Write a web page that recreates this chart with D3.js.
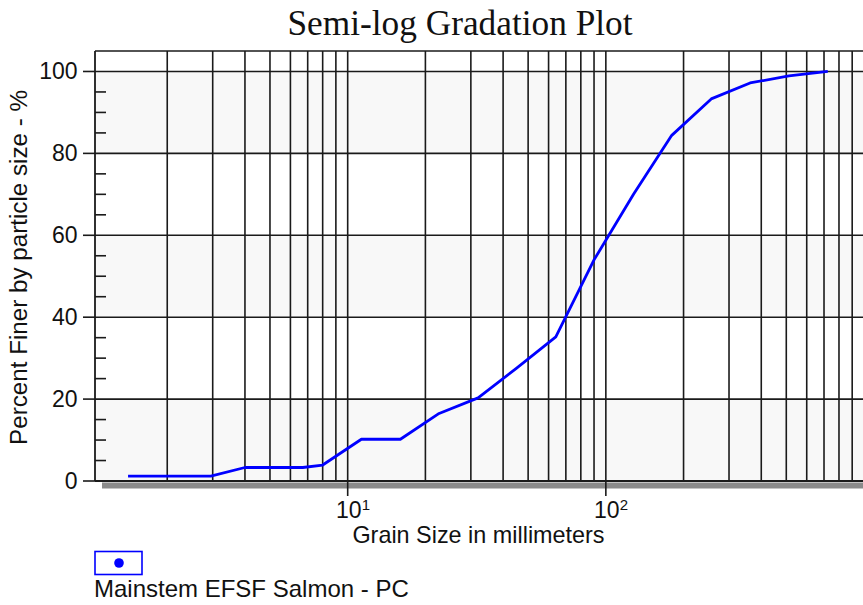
<!DOCTYPE html>
<html>
<head>
<meta charset="utf-8">
<script src="https://cdn.jsdelivr.net/npm/d3@7/dist/d3.min.js"></script>
<style>
  html, body { margin: 0; padding: 0; background: #fff; }
  svg { display: block; }
  text { font-family: "Liberation Sans", Arial, sans-serif; fill: #111; }
</style>
</head>
<body>
<svg id="chart" width="863" height="605"></svg>
<script>
// ---- data ----
const title = "Semi-log Gradation Plot";
const xLabel = "Grain Size in millimeters";
const yLabel = "Percent Finer by particle size - %";
const seriesName = "Mainstem EFSF Salmon - PC";
const grainSizes = [1.41, 2.95, 4, 6.7, 8, 11.3, 16, 22.6, 32, 45, 64, 90, 128, 180, 256, 362, 512, 724];
const percentFiner = [1.2, 1.2, 3.3, 3.3, 3.9, 10.2, 10.2, 16.5, 20.3, 27.5, 35.2, 54, 70, 84.4, 93.3, 97.2, 98.9, 100];
const yTicks = [0, 20, 40, 60, 80, 100];
const yMinorTicks = [5, 10, 15, 25, 30, 35, 45, 50, 55, 65, 70, 75, 85, 90, 95];
const xMajorTicks = [10, 100];
const xMajorExponents = ["1", "2"];
const xDomain = [1.05, 1000];
const yDomain = [0, 105];

// ---- layout ----
const svg = d3.select("#chart");
const L = 95, R = 864, T = 51, B = 481;
const x = d3.scaleLog().domain(xDomain).range([L, R]);
const y = d3.scaleLinear().domain(yDomain).range([B, T]);

// background bands
const bands = [[0, 20], [40, 60], [80, 100]];
svg.append("rect").attr("x", L).attr("y", T).attr("width", R - L).attr("height", B - T).attr("fill", "#fff");
svg.selectAll("rect.band").data(bands).enter().append("rect")
  .attr("class", "band")
  .attr("x", L).attr("width", R - L)
  .attr("y", d => y(d[1])).attr("height", d => y(d[0]) - y(d[1]))
  .attr("fill", "#f8f8f8");

// vertical grid lines (log)
const xGrid = [];
for (let p = 0; p < 3; p++) {
  for (let m = 1; m <= 9; m++) {
    const v = m * Math.pow(10, p);
    if (v > xDomain[0] && v < xDomain[1]) xGrid.push(v);
  }
}
svg.selectAll("line.vg").data(xGrid).enter().append("line")
  .attr("x1", d => x(d)).attr("x2", d => x(d))
  .attr("y1", T).attr("y2", B)
  .attr("stroke", "#1a1a1a").attr("stroke-width", 1.6);

// horizontal grid lines
svg.selectAll("line.hg").data(yTicks.filter(d => d > 0)).enter().append("line")
  .attr("x1", L).attr("x2", R)
  .attr("y1", d => y(d)).attr("y2", d => y(d))
  .attr("stroke", "#1a1a1a").attr("stroke-width", 1.6);

// frame: top & left
svg.append("line").attr("x1", L).attr("x2", R).attr("y1", T).attr("y2", T)
  .attr("stroke", "#1a1a1a").attr("stroke-width", 1.6);
svg.append("line").attr("x1", L).attr("x2", L).attr("y1", T).attr("y2", B)
  .attr("stroke", "#1a1a1a").attr("stroke-width", 1.8);

// bottom shadow + axis line
svg.append("rect").attr("x", L + 7).attr("y", B + 1.5).attr("width", R - L).attr("height", 6).attr("fill", "#8a8a8a");
svg.append("line").attr("x1", L).attr("x2", R).attr("y1", B).attr("y2", B)
  .attr("stroke", "#1a1a1a").attr("stroke-width", 2);

// y ticks
svg.selectAll("line.ymaj").data(yTicks).enter().append("line")
  .attr("x1", L - 12).attr("x2", L)
  .attr("y1", d => y(d)).attr("y2", d => y(d))
  .attr("stroke", "#1a1a1a").attr("stroke-width", 1.6);
svg.selectAll("line.ymin").data(yMinorTicks).enter().append("line")
  .attr("x1", L).attr("x2", L + 11)
  .attr("y1", d => y(d)).attr("y2", d => y(d))
  .attr("stroke", "#1a1a1a").attr("stroke-width", 1.6);
svg.selectAll("text.ylab").data(yTicks).enter().append("text")
  .attr("x", 77.5).attr("y", d => y(d) + 8)
  .attr("text-anchor", "end").attr("font-size", 23)
  .text(d => d);

// x major ticks
svg.selectAll("line.xmaj").data(xMajorTicks).enter().append("line")
  .attr("x1", d => x(d)).attr("x2", d => x(d))
  .attr("y1", B).attr("y2", B + 15)
  .attr("stroke", "#1a1a1a").attr("stroke-width", 1.6);
xMajorTicks.forEach((v, i) => {
  const g = svg.append("g");
  g.append("text").attr("x", x(v) + 1).attr("y", 518).attr("text-anchor", "middle").attr("font-size", 23).text("10");
  g.append("text").attr("x", x(v) + 14).attr("y", 510).attr("text-anchor", "start").attr("font-size", 15).text(xMajorExponents[i]);
});

// axis titles
svg.append("text").attr("x", 478.5).attr("y", 543).attr("text-anchor", "middle").attr("font-size", 23.4).text(xLabel);
svg.append("text").attr("transform", "translate(27,267.5) rotate(-90)")
  .attr("text-anchor", "middle").attr("font-size", 24.2).text(yLabel);

// title
svg.append("text").attr("x", 460).attr("y", 35).attr("text-anchor", "middle")
  .style("font-family", '"Liberation Serif", "Times New Roman", serif')
  .attr("font-size", 35.3).attr("fill", "#000").text(title);

// curve
const pts = grainSizes.map((s, i) => [s, percentFiner[i]]);
const line = d3.line().x(d => x(d[0])).y(d => y(d[1]));
svg.append("path").datum(pts).attr("d", line)
  .attr("fill", "none").attr("stroke", "#0000ff").attr("stroke-width", 2.8)
  .attr("stroke-linejoin", "round");

// legend
svg.append("rect").attr("x", 95).attr("y", 551.5).attr("width", 47).attr("height", 23)
  .attr("fill", "#fff").attr("stroke", "#0000ff").attr("stroke-width", 1.6);
svg.append("circle").attr("cx", 119).attr("cy", 563).attr("r", 4.8).attr("fill", "#0000ff");
svg.append("text").attr("x", 94).attr("y", 597).attr("font-size", 24).text(seriesName);
</script>
</body>
</html>
